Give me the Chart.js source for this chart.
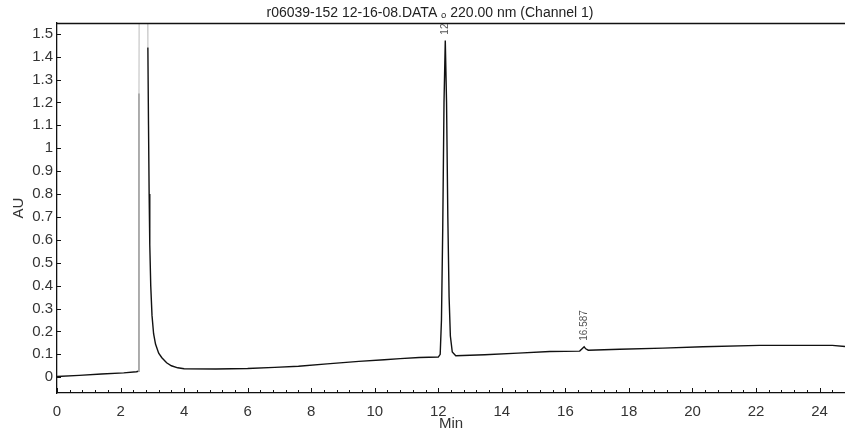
<!doctype html>
<html lang="en">
  <head>
    <meta charset="UTF-8" />
    <title>r06039-152 chromatogram</title>
    <script src="https://cdn.jsdelivr.net/npm/chart.js@4.4.1/dist/chart.umd.min.js"></script>
    <style>
      body {
        margin: 0;
        background: #fff;
      }
      #wrap {
        width: 845px;
        height: 433px;
      }
    </style>
  </head>
  <body>
    <div id="wrap"><canvas id="chrom" width="845" height="433"></canvas></div>
    <script>
      // retention time (min) and absorbance (AU)
      const times = [
        0.0, 0.7, 1.4, 2.1, 2.5, 2.56, 2.58, 2.59, 2.84, 2.86, 2.88, 2.9,
        2.92, 2.95, 2.99, 3.04, 3.1, 3.2, 3.3, 3.45, 3.6, 3.8, 4.0, 5.0, 6.0,
        6.85, 7.6, 8.5, 9.5, 10.3, 10.8, 11.4, 12.0, 12.06, 12.1, 12.14,
        12.18, 12.22, 12.26, 12.3, 12.34, 12.38, 12.44, 12.55, 13.46, 14.51,
        15.51, 16.45, 16.55, 16.59, 16.64, 16.72, 17.71, 19.07, 20.33, 22.11,
        24.4, 24.8,
      ];
      const au = [
        0.003, 0.008, 0.014, 0.019, 0.024, 0.026, 1.24, 1.8, 1.8, 1.44, 1.1,
        0.8, 0.58, 0.4, 0.27, 0.19, 0.145, 0.105, 0.085, 0.063, 0.05, 0.041,
        0.037, 0.036, 0.038, 0.043, 0.048, 0.058, 0.069, 0.076, 0.081, 0.086,
        0.088, 0.1, 0.25, 0.65, 1.2, 1.47, 1.2, 0.7, 0.35, 0.18, 0.11, 0.094,
        0.098, 0.105, 0.112, 0.114, 0.128, 0.133, 0.124, 0.118, 0.122, 0.127,
        0.133, 0.139, 0.139, 0.134,
      ];

      // labelled peaks
      const peakTimes = [12.22, 16.59];
      const peakTops = [1.47, 0.133];
      const peakNames = ["12.223", "16.587"];

      const titleText = "r06039-152 12-16-08.DATA \u2092 220.00 nm (Channel 1)";
      const FONT = '"Liberation Sans", Arial, sans-serif';

      const points = times.map((t, i) => ({ x: t, y: au[i] }));

      // extras: frame top line, inside tick marks, title, peak labels
      const chromExtras = {
        id: "chromExtras",
        afterDraw(chart) {
          const { ctx, chartArea } = chart;
          const xs = chart.scales.x;
          const ys = chart.scales.y;
          ctx.save();
          ctx.strokeStyle = "#111";
          ctx.lineWidth = 1.3;
          ctx.beginPath();
          ctx.moveTo(chartArea.left, chartArea.top + 0.5);
          ctx.lineTo(chartArea.right, chartArea.top + 0.5);
          ctx.stroke();

          ctx.lineWidth = 1;
          ctx.beginPath();
          for (let k = 0; k <= 15; k++) {
            const py = Math.round(ys.getPixelForValue(k / 10)) + 0.5;
            ctx.moveTo(chartArea.left, py);
            ctx.lineTo(chartArea.left + 4, py);
          }
          for (let k = 0; k <= 62; k++) {
            const px = Math.round(xs.getPixelForValue(k * 0.4)) + 0.5;
            const major = k % 5 === 0;
            ctx.moveTo(px, chartArea.bottom);
            ctx.lineTo(px, chartArea.bottom - (major ? 5 : 3));
          }
          ctx.stroke();

          ctx.fillStyle = "#222";
          ctx.font = "14px " + FONT;
          ctx.textAlign = "center";
          ctx.textBaseline = "alphabetic";
          ctx.fillText(titleText, 430, 17);

          ctx.beginPath();
          ctx.rect(chartArea.left, chartArea.top + 1, chartArea.right - chartArea.left, chartArea.bottom - chartArea.top);
          ctx.clip();
          ctx.fillStyle = "#555";
          ctx.font = "10px " + FONT;
          ctx.textAlign = "left";
          ctx.textBaseline = "middle";
          peakTimes.forEach((t, i) => {
            const px = xs.getPixelForValue(t);
            const py = ys.getPixelForValue(peakTops[i]) - 6;
            ctx.save();
            ctx.translate(px, py);
            ctx.rotate(-Math.PI / 2);
            ctx.fillText(peakNames[i], 0, 0);
            ctx.restore();
          });
          ctx.restore();
        },
      };

      new Chart(document.getElementById("chrom"), {
        type: "line",
        data: {
          datasets: [
            {
              data: points,
              borderColor: "#111",
              borderWidth: 1.4,
              pointRadius: 0,
              tension: 0,
              segment: {
                borderColor: (c) => {
                  const a = c.p0.parsed.y;
                  const b = c.p1.parsed.y;
                  if (Math.max(a, b) > 1.6) return "#cfcfcf";
                  if (b - a > 1) return "#8a8a8a";
                  return "#111";
                },
              },
            },
          ],
        },
        options: {
          responsive: false,
          animation: false,
          layout: { padding: { top: 23, right: 0, left: 0, bottom: 0 } },
          plugins: {
            legend: { display: false },
            tooltip: { enabled: false },
          },
          scales: {
            x: {
              type: "linear",
              min: 0,
              max: 24.8,
              afterFit: (s) => {
                s.height = 40;
              },
              grid: { display: false },
              border: { display: true, color: "#111", width: 1.3 },
              ticks: {
                stepSize: 2,
                includeBounds: false,
                maxRotation: 0,
                padding: 2,
                color: "#333",
                font: { family: FONT, size: 15 },
              },
              title: {
                display: true,
                text: "Min",
                color: "#333",
                padding: { top: -4, bottom: 0 },
                font: { family: FONT, size: 15 },
              },
            },
            y: {
              min: -0.069,
              max: 1.547,
              afterFit: (s) => {
                s.width = 57;
              },
              grid: { display: false },
              border: { display: true, color: "#111", width: 1.3 },
              ticks: {
                stepSize: 0.1,
                includeBounds: false,
                padding: -4,
                color: "#333",
                font: { family: FONT, size: 15 },
                callback: (v) => String(Number(v.toFixed(1))),
              },
              title: {
                display: true,
                text: "AU",
                color: "#333",
                padding: { top: 10, bottom: 4 },
                font: { family: FONT, size: 15 },
              },
            },
          },
        },
        plugins: [chromExtras],
      });
    </script>
  </body>
</html>
